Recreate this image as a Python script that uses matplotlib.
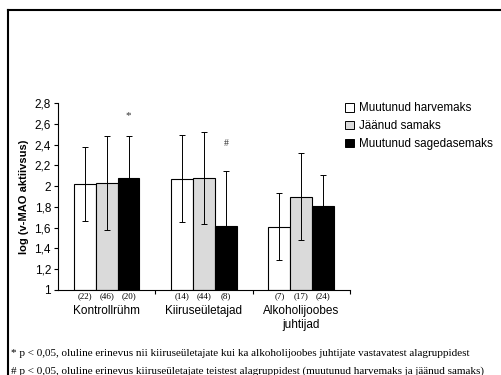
import numpy as np
import matplotlib.pyplot as plt
from matplotlib.lines import Line2D
from matplotlib.ticker import FuncFormatter

groups = ["Kontrollrühm", "Kiiruseületajad", "Alkoholijoobes\njuhtijad"]
series = ["Muutunud harvemaks", "Jäänud samaks", "Muutunud sagedasemaks"]
means = [[2.02, 2.07, 1.61],
         [2.03, 2.08, 1.90],
         [2.08, 1.62, 1.81]]
errs = [[0.36, 0.42, 0.32],
        [0.45, 0.44, 0.42],
        [0.40, 0.53, 0.30]]
counts = [["(22)", "(14)", "(7)"],
          ["(46)", "(44)", "(17)"],
          ["(20)", "(8)", "(24)"]]
marks = ["*", "#", ""]
colors = ["white", "#dadada", "black"]

plt.rcParams['font.family'] = ['Liberation Sans', 'DejaVu Sans']
fig = plt.figure(figsize=(5.02, 3.75), dpi=100)
ax = fig.add_axes([0.1155, 0.2267, 0.5815, 0.4986])

x = np.arange(len(groups))
w = 0.225
for i in range(3):
    pos = x + (i - 1) * w
    ax.bar(pos, np.array(means[i]) - 1, bottom=1, width=w, color=colors[i],
           edgecolor="black", linewidth=0.8, zorder=2)
    ax.errorbar(pos, means[i], yerr=errs[i], fmt="none", ecolor="black",
                elinewidth=0.7, capsize=2.5, capthick=0.7, zorder=3)
    for j in range(3):
        ax.text(pos[j], 0.975, counts[i][j], ha="center", va="top",
                fontsize=6.5, family="Liberation Serif")

ax.text(x[0] + w, 2.68, marks[0], ha="center", va="center", fontsize=8,
        family="Liberation Serif", color="#333333")
ax.text(x[1] + w, 2.41, marks[1], ha="center", va="center", fontsize=7,
        family="Liberation Serif", color="#333333")

ax.set_xlim(-0.5, 2.5)
ax.set_ylim(1, 2.8)
ax.set_yticks(np.arange(1, 2.81, 0.2))
ax.yaxis.set_major_formatter(FuncFormatter(lambda v, p: ("%.1f" % v).rstrip("0").rstrip(".").replace(".", ",")))
ax.set_xticks([0.5, 1.5, 2.5])
ax.set_xticklabels([])
ax.tick_params(axis="y", labelsize=8.5, length=3, width=0.8, pad=2)
ax.tick_params(axis="x", length=3, width=0.8)
for j, g in enumerate(groups):
    ax.text(x[j], 0.855, g, ha="center", va="top", fontsize=8.5, linespacing=1.25)
ax.spines["top"].set_visible(False)
ax.spines["right"].set_visible(False)
ax.set_ylabel("log (v-MAO aktiivsus)", fontsize=8, fontweight="bold", labelpad=4)

handles = [plt.Rectangle((0, 0), 1, 1, facecolor=c, edgecolor="black", linewidth=0.7) for c in colors]
fig.legend(handles, series, loc="upper left", bbox_to_anchor=(0.667, 0.755),
           frameon=False, fontsize=8.4, handlelength=0.75, handleheight=0.75,
           handletextpad=0.4, labelspacing=0.5)

fig.text(0.022, 0.056, "* p < 0,05, oluline erinevus nii kiiruseületajate kui ka alkoholijoobes juhtijate vastavatest alagruppidest",
         fontsize=8.0, family="Liberation Serif", va="center")
fig.text(0.022, 0.010, "# p < 0,05, oluline erinevus kiiruseületajate teistest alagruppidest (muutunud harvemaks ja jäänud samaks)",
         fontsize=8.0, family="Liberation Serif", va="center")

fig.add_artist(Line2D([0.016, 1.0], [0.973, 0.973], color="black", linewidth=1.5))
fig.add_artist(Line2D([0.016, 0.016], [0.0, 0.973], color="black", linewidth=1.5))

fig.savefig("out.png", dpi=100)
